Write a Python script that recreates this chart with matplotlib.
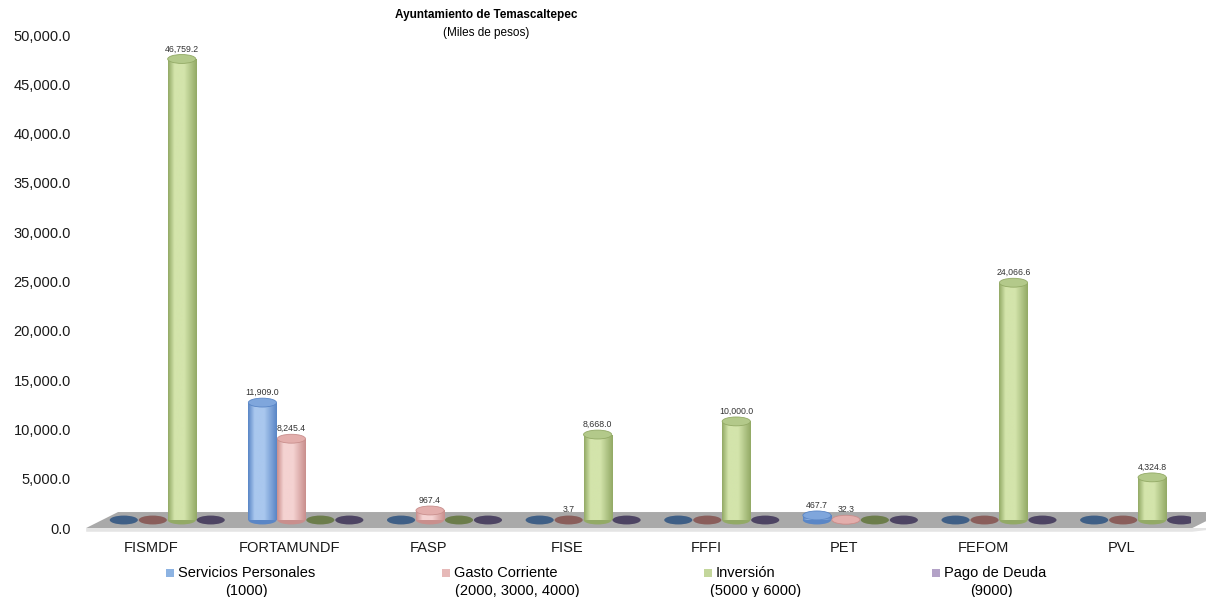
import numpy as np
import matplotlib.pyplot as plt
from matplotlib.patches import Ellipse, Polygon, Rectangle
from matplotlib.colors import LinearSegmentedColormap

plt.rcParams['font.family'] = ['Liberation Sans', 'DejaVu Sans']

# Datos (miles de pesos)
programas = ['FISMDF', 'FORTAMUNDF', 'FASP', 'FISE', 'FFFI', 'PET', 'FEFOM', 'PVL']
servicios_personales = [0.0, 11909.0, 0.0, 0.0, 0.0, 467.7, 0.0, 0.0]
gasto_corriente = [0.0, 8245.4, 967.4, 3.7, 0.0, 32.3, 0.0, 0.0]
inversion = [46759.2, 0.0, 0.0, 8668.0, 10000.0, 0.0, 24066.6, 4324.8]
pago_deuda = [0.0, 0.0, 0.0, 0.0, 0.0, 0.0, 0.0, 0.0]
serie_nombre = ['Servicios Personales', 'Gasto Corriente', 'Inversión', 'Pago de Deuda']
serie_clave = ['(1000)', '(2000, 3000, 4000)', '(5000 y 6000)', '(9000)']
yticks = np.arange(0, 50001, 5000)

series = [servicios_personales, gasto_corriente, inversion, pago_deuda]

# colores: borde del cilindro, centro, tapa, disco plano (valor cero)
borde = ['#5a86c6', '#c98f8d', '#93aa66', '#8a78a8']
centro = ['#a9c7ee', '#f4d2d1', '#d3e4ab', '#c8badd']
tapa = ['#7fa6dc', '#e3aeac', '#b3c98a', '#a999c4']
plano = ['#3f5f86', '#8a5e5b', '#6c7d4b', '#4d4463']
leyenda = ['#8db3e2', '#e6b9b8', '#c3d69b', '#b3a2c7']

W, H = 1206, 597
fig = plt.figure(figsize=(W / 100, H / 100), dpi=100)
ax = fig.add_axes([82 / W, 1 - 528 / H, 1109 / W, 493 / H])

# geometria del "piso" 3D
piso_y = 1620
piso_slant = 0.23
base = piso_y / 2
x_shift = piso_slant / 2
bw = 0.203
step = 0.209

ax.add_patch(Polygon([[-0.47, -380], [7.51, -380], [7.51 + piso_slant, 0], [-0.47, 0]],
                     closed=True, facecolor='#e4e4e4', edgecolor='none', zorder=1, clip_on=False))
ax.add_patch(Polygon([[-0.47, 0], [7.51, 0], [7.51 + piso_slant, piso_y], [-0.47 + piso_slant, piso_y]],
                     closed=True, facecolor='#a9a9a9', edgecolor='none', zorder=1, clip_on=False))

ell_h = 900
idx = np.arange(len(programas))
for k, vals in enumerate(series):
    xs = idx + x_shift + (k - 1.5) * step
    bars = ax.bar(xs, vals, width=bw, bottom=base, color='none', zorder=3)
    cmap = LinearSegmentedColormap.from_list('c%d' % k, [borde[k], centro[k], centro[k], borde[k]])
    grad = np.concatenate([np.linspace(0, 0.5, 22), np.linspace(0.5, 1, 42)])[None, :]
    for rect, v in zip(bars, vals):
        cx = rect.get_x() + rect.get_width() / 2
        if v < 10:
            ax.add_patch(Ellipse((cx, base), bw, ell_h, facecolor=plano[k], edgecolor='none', zorder=4))
        else:
            ax.add_patch(Ellipse((cx, base), bw, ell_h, facecolor=borde[k], edgecolor='none', zorder=3))
            im = ax.imshow(grad, extent=[rect.get_x(), rect.get_x() + bw, base, base + v],
                           aspect='auto', cmap=cmap, interpolation='bilinear', zorder=3.5)
            im.set_clip_path(rect)
            ax.add_patch(Ellipse((cx, base + v), bw, ell_h, facecolor=tapa[k],
                                 edgecolor=borde[k], linewidth=0.6, zorder=5))
        if v > 0:
            ax.annotate(f'{v:,.1f}', (cx, base + v), xytext=(0, 7.2), textcoords='offset points',
                        ha='center', va='center', fontsize=6.3, color='#333333', zorder=6)

ax.set_xlim(-0.5, len(programas) - 0.5)
ax.set_ylim(0, 50000)
ax.set_xticks(idx)
ax.set_xticklabels(programas, fontsize=10.5)
ax.set_yticks(yticks)
ax.set_yticklabels([f'{t:,.1f}' for t in yticks], fontsize=10.5)
ax.tick_params(length=0, colors='#1a1a1a')
ax.tick_params(axis='y', pad=8)
ax.tick_params(axis='x', pad=9)
for s in ax.spines.values():
    s.set_visible(False)
ax.patch.set_alpha(0)

fig.text(486 / W, 1 - 15 / H, 'Ayuntamiento de Temascaltepec', ha='center', va='center',
         fontsize=8.5, fontweight='bold')
fig.text(486 / W, 1 - 33 / H, '(Miles de pesos)', ha='center', va='center', fontsize=8.5)

# leyenda manual
ley_x = [166, 442, 704, 932]
ley_c2 = [246, 517, 756, 991]
for k in range(4):
    fig.patches.append(Rectangle((ley_x[k] / W, 1 - 577 / H), 8 / W, 8 / H, transform=fig.transFigure,
                                 facecolor=leyenda[k], edgecolor='none'))
    fig.text((ley_x[k] + 12) / W, 1 - 573 / H, serie_nombre[k], ha='left', va='center', fontsize=10.5)
    fig.text(ley_c2[k] / W, 1 - 591 / H, serie_clave[k], ha='center', va='center', fontsize=10.5)

fig.savefig('out.png', dpi=100)
